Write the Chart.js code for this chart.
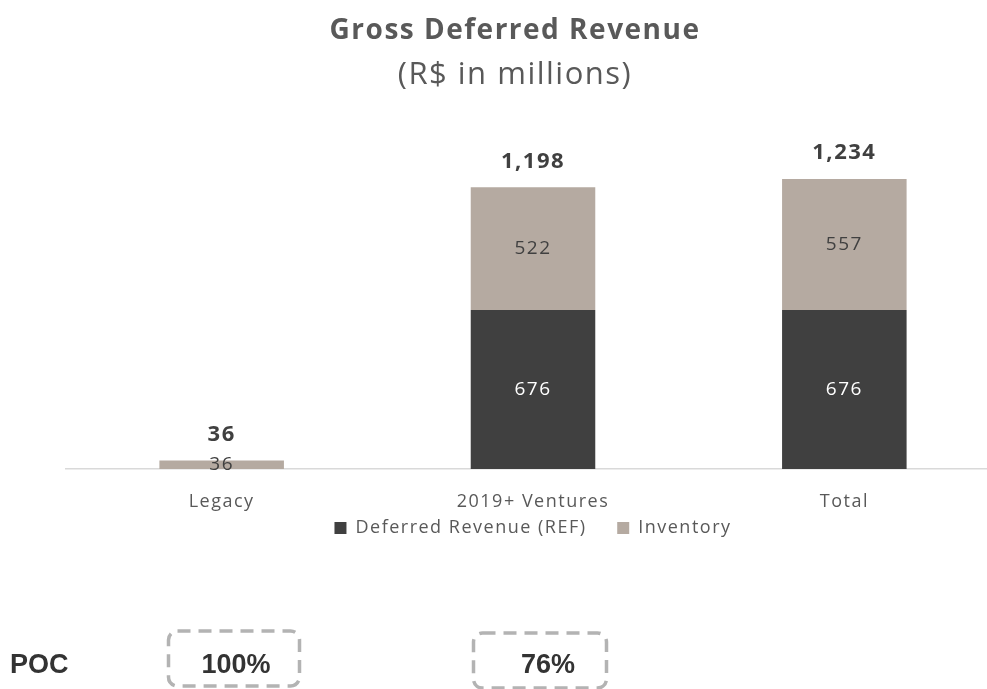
<!DOCTYPE html>
<html>
<head>
<meta charset="utf-8">
<script src="https://cdn.jsdelivr.net/npm/chart.js@4.4.0/dist/chart.umd.min.js"></script>
<style>
  body { margin: 0; background: #fff; overflow: hidden; }
  #wrap { position: absolute; left: 0; top: 0; width: 1000px; height: 689px; }
  #poc { position: absolute; left: 0; top: 0; pointer-events: none; }
</style>
</head>
<body>
<div id="wrap"><canvas id="gdrChart"></canvas></div>
<svg id="poc" width="987" height="689">
  <text x="10" y="673" font-family="Liberation Sans, Arial" font-weight="bold" font-size="27" fill="#333">POC</text>
  <rect x="168.5" y="631" width="131" height="55" rx="9" fill="none" stroke="#b3b3b3" stroke-width="3.5" stroke-dasharray="13 8"/>
  <text x="236" y="673" text-anchor="middle" font-family="Liberation Sans, Arial" font-weight="bold" font-size="27" fill="#333">100%</text>
  <rect x="473.5" y="633" width="133" height="55" rx="9" fill="none" stroke="#b3b3b3" stroke-width="3.5" stroke-dasharray="13 8"/>
  <text x="548" y="673" text-anchor="middle" font-family="Liberation Sans, Arial" font-weight="bold" font-size="27" fill="#333">76%</text>
</svg>
<script>
// Données du graphique
const categories = ["Legacy", "2019+ Ventures", "Total"];
const refValues = [0, 676, 676];
const inventoryValues = [36, 522, 557];
// Totaux affichés (arrondis comme dans la source)
const totals = [36, 1198, 1234];
const seriesNames = ["Deferred Revenue (REF)", "Inventory"];

const darkColor = "#404040";
const taupeColor = "#b5aaa1";
const textColor = "#595959";
const fontFamily = "'Open Sans', 'Noto Sans', sans-serif";

// Espacement des lettres un peu plus large, comme le rendu d'origine
const spacing = {
  id: "spacing",
  beforeUpdate(chart) { chart.ctx.letterSpacing = "1.5px"; },
  beforeLayout(chart) { chart.ctx.letterSpacing = "1.5px"; },
  beforeDraw(chart) { chart.ctx.letterSpacing = "1.5px"; }
};

// Étiquettes dans les barres + totaux au-dessus
const barLabels = {
  id: "barLabels",
  afterDatasetsDraw(chart) {
    const ctx = chart.ctx;
    ctx.save();
    ctx.textAlign = "center";
    ctx.textBaseline = "middle";
    chart.data.datasets.forEach((ds, i) => {
      const meta = chart.getDatasetMeta(i);
      meta.data.forEach((bar, j) => {
        const v = ds.data[j];
        if (!v) return;
        ctx.font = "19px " + fontFamily;
        ctx.fillStyle = i === 0 ? "#ffffff" : "#404040";
        ctx.fillText(v.toLocaleString("en-US"), bar.x, (bar.y + bar.base) / 2);
      });
    });
    const yScale = chart.scales.y;
    const topMeta = chart.getDatasetMeta(1);
    totals.forEach((t, j) => {
      ctx.font = "bold 22px " + fontFamily;
      ctx.fillStyle = "#404040";
      ctx.fillText(t.toLocaleString("en-US"), topMeta.data[j].x, yScale.getPixelForValue(refValues[j] + inventoryValues[j]) - 26);
    });
    ctx.restore();
  }
};

const ctx = document.getElementById("gdrChart").getContext("2d");
new Chart(ctx, {
  type: "bar",
  data: {
    labels: categories,
    datasets: [
      { label: seriesNames[0], data: refValues, backgroundColor: darkColor },
      { label: seriesNames[1], data: inventoryValues, backgroundColor: taupeColor }
    ]
  },
  options: {
    responsive: true,
    maintainAspectRatio: false,
    animation: false,
    categoryPercentage: 1,
    barPercentage: 0.4,
    layout: { padding: { left: 30, right: 0, top: 0, bottom: 142 } },
    plugins: {
      title: {
        display: true,
        text: "Gross Deferred Revenue",
        color: textColor,
        font: { family: fontFamily, size: 28, weight: "bold" },
        padding: { top: 14, bottom: 0 }
      },
      subtitle: {
        display: true,
        text: "(R$ in millions)",
        color: textColor,
        font: { family: fontFamily, size: 31 },
        padding: { top: 9, bottom: 46 }
      },
      legend: {
        position: "bottom",
        fullSize: false,
        labels: {
          color: textColor,
          font: { family: fontFamily, size: 18 },
          boxWidth: 12,
          boxHeight: 12,
          padding: 6,
          generateLabels(chart) {
            const items = Chart.defaults.plugins.legend.labels.generateLabels(chart);
            items[0].text = items[0].text + "    ";
            return items;
          }
        }
      },
      tooltip: { enabled: false }
    },
    scales: {
      x: {
        stacked: true,
        grid: { display: false, drawTicks: false },
        border: { display: true, color: "#d9d9d9", width: 1.5 },
        ticks: { color: textColor, font: { family: fontFamily, size: 18 }, padding: 22 },
        afterFit(scale) { scale.height = 44; }
      },
      y: {
        stacked: true,
        display: true,
        min: 0,
        max: 1400,
        grid: { display: false },
        border: { display: false },
        ticks: { display: false },
        afterFit(scale) { scale.width = 36; }
      }
    }
  },
  plugins: [spacing, barLabels]
});
</script>
</body>
</html>
